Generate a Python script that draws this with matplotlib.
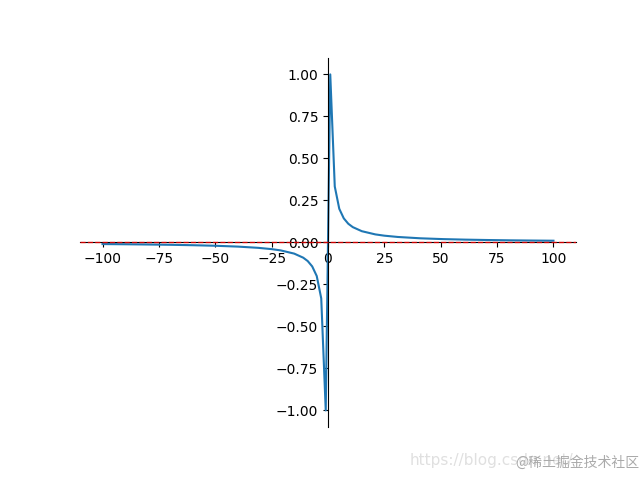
import matplotlib.pyplot as plt

x_neg = [-100, -90, -80, -70, -60, -50, -40, -31, -25, -21, -15, -11,
         -9, -7, -5, -3, -1]
y_neg = [-0.01, -0.0111, -0.0125, -0.0143, -0.0167, -0.02, -0.025, -0.0323,
         -0.04, -0.0476, -0.0667, -0.0909, -0.111, -0.143, -0.2, -0.333, -1.0]
x_pos = [1, 3, 5, 7, 9, 11, 15, 21, 25, 31, 41, 51, 61, 71, 81, 91, 100]
y_pos = [1.0, 0.333, 0.2, 0.143, 0.111, 0.0909, 0.0667, 0.0476, 0.04,
         0.0323, 0.0244, 0.0196, 0.0164, 0.0141, 0.0123, 0.011, 0.01]

xs = x_neg + x_pos
ys = y_neg + y_pos

fig = plt.figure(figsize=(6.4, 4.8), dpi=100)
ax = fig.add_subplot(111)
ax.plot(xs, ys)
ax.axhline(0, color='red', linestyle='--', linewidth=1, alpha=0.8, zorder=3)

ax.spines['right'].set_color('none')
ax.spines['top'].set_color('none')
ax.spines['left'].set_position(('data', 0))
ax.spines['bottom'].set_position(('data', 0))

fig.text(0.64, 0.032, 'https://blog.csdn.net/', color='#e0e0e0', fontsize=11)
fig.text(0.805, 0.028, '@稀土掘金技术社区', color='#aaaaaa', fontsize=10,
         family=['Noto Sans CJK SC', 'DejaVu Sans'])

plt.savefig('out.png')
